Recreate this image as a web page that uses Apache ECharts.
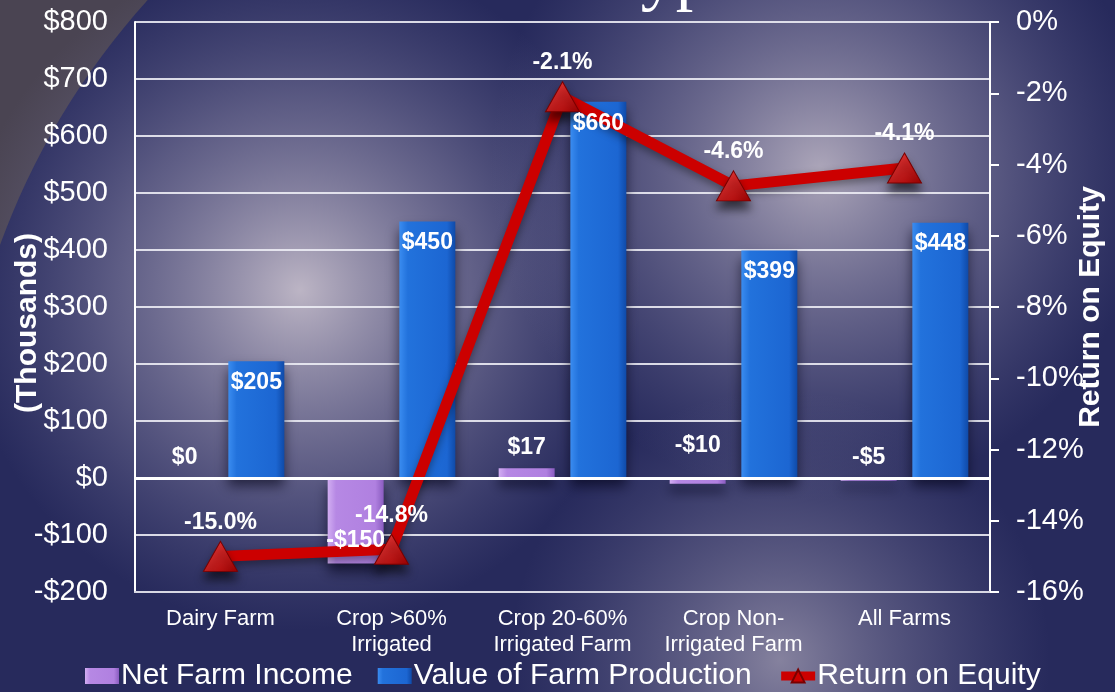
<!DOCTYPE html>
<html lang="en">
<head>
    <meta charset="UTF-8">
    <title>Farm Type</title>
    <script src="https://cdn.jsdelivr.net/npm/echarts@6/dist/echarts.min.js"></script>
    <style>
        html, body { margin: 0; padding: 0; background: #272a5c; }
        #chart { width: 1115px; height: 692px; }
    </style>
</head>
<body>
    <div id="chart"></div>
    <script>
        // data
        const categories = ['Dairy Farm', 'Crop >60%\nIrrigated', 'Crop 20-60%\nIrrigated Farm', 'Crop Non-\nIrrigated Farm', 'All Farms'];
        const netIncome = [0, -150, 17, -10, -5];          // $ thousands
        const farmValue = [205, 450, 660, 399, 448];       // $ thousands
        const roe = [-15.0, -14.8, -2.1, -4.6, -4.1];      // percent

        const font = '"Liberation Sans", Arial, sans-serif';
        const money = v => (v < 0 ? '-$' + (-v) : '$' + v);

        let chart = echarts.init(document.getElementById('chart'));

        // background shapes (slide template look)
        const glow = (a) => ({
            type: 'radial', x: 0.5, y: 0.5, r: 0.5,
            colorStops: [
                { offset: 0, color: 'rgba(196,188,202,' + a + ')' },
                { offset: 0.55, color: 'rgba(150,145,175,' + (a * 0.5) + ')' },
                { offset: 1, color: 'rgba(120,118,160,0)' }
            ]
        });
        const bg = [
            { type: 'rect', z: -10, silent: true, shape: { x: 0, y: 0, width: 1115, height: 692 }, style: { fill: '#4a4452' } },
            { type: 'circle', z: -10, silent: true, shape: { cx: 700, cy: 500, r: 745 }, style: { fill: '#272a5c' } },
            { type: 'circle', z: -9, silent: true, shape: { cx: 300, cy: 290, r: 340 }, style: { fill: glow(0.95) } },
            { type: 'circle', z: -9, silent: true, shape: { cx: 820, cy: 170, r: 330 }, style: { fill: glow(0.85) } },
            { type: 'circle', z: -9, silent: true, shape: { cx: 780, cy: 660, r: 270 }, style: { fill: glow(0.6) } },
            // cropped slide title, only the descenders show
            { type: 'text', z: -8, silent: true, style: { text: 'Type', x: 603, y: -21, fill: '#ffffff', font: '70px "Liberation Serif", serif', verticalAlign: 'middle' } }
        ];

        const blueFill = new echarts.graphic.LinearGradient(0, 0, 1, 0, [
            { offset: 0, color: '#3a8cf0' }, { offset: 0.15, color: '#2272dc' },
            { offset: 0.85, color: '#1c66d2' }, { offset: 1, color: '#0f4aa8' }
        ]);
        const purpleFill = new echarts.graphic.LinearGradient(0, 0, 1, 0, [
            { offset: 0, color: '#d2aef2' }, { offset: 0.15, color: '#b688e4' },
            { offset: 0.85, color: '#b080e0' }, { offset: 1, color: '#8a5cc0' }
        ]);
        const redFill = new echarts.graphic.LinearGradient(0, 0, 1, 1, [
            { offset: 0, color: '#f04040' }, { offset: 1, color: '#a00000' }
        ]);

        const valueLabel = {
            show: true, color: '#ffffff', fontFamily: font, fontWeight: 'bold', fontSize: 23
        };
        const barShadow = { shadowBlur: 12, shadowOffsetY: 8, shadowColor: 'rgba(0,0,20,0.6)' };
        const clear = { color: 'rgba(0,0,0,0)' };

        const incomeItems = netIncome.map(v => ({
            value: v,
            label: v < -50 ? { position: 'insideBottom', distance: 11 } : { position: 'top', distance: v < -7 ? 21 : 9 }
        }));

        let option = {
            backgroundColor: '#272a5c',
            animation: false,
            graphic: bg,
            grid: { left: 135, right: 125, top: 22, bottom: 100, containLabel: false, outerBoundsMode: 'none' },
            legend: {
                left: 80, top: 656,
                itemWidth: 34, itemHeight: 16, itemGap: 25,
                textStyle: { color: '#ffffff', fontFamily: font, fontSize: 30, padding: [0, 0, 0, -3] },
                data: [
                    { name: 'Net Farm Income', icon: 'rect' },
                    { name: 'Value of Farm Production', icon: 'rect' },
                    { name: 'Return on Equity', itemStyle: { color: '#cc0000' } }
                ],
                lineStyle: { width: 9 }
            },
            xAxis: [
                {
                    type: 'category',
                    data: categories,
                    axisLine: { onZero: false, lineStyle: { color: '#d8d8e4', width: 2 } },
                    axisTick: { show: false },
                    axisLabel: { color: '#ffffff', fontFamily: font, fontSize: 22, lineHeight: 26, margin: 14, interval: 0 }
                },
                // twin axis for the label overlay, so bar labels sit above the line
                { type: 'category', data: categories, show: false }
            ],
            yAxis: [
                {
                    type: 'value', min: -200, max: 800, interval: 100,
                    name: '(Thousands)', nameLocation: 'middle', nameGap: 92, nameMoveOverlap: false,
                    nameTextStyle: { color: '#ffffff', fontFamily: font, fontWeight: 'bold', fontSize: 30, padding: [0, 32, 0, 0] },
                    axisLine: { show: true, lineStyle: { color: '#ffffff', width: 2 } },
                    axisTick: { show: false },
                    axisLabel: { color: '#ffffff', fontFamily: font, fontSize: 29, margin: 27, formatter: money },
                    splitLine: { show: true, lineStyle: { color: 'rgba(236,236,244,0.9)', width: 2 } }
                },
                {
                    type: 'value', min: -16, max: 0, interval: 2, position: 'right',
                    name: 'Return on Equity', nameLocation: 'middle', nameGap: 86, nameMoveOverlap: false,
                    nameTextStyle: { color: '#ffffff', fontFamily: font, fontWeight: 'bold', fontSize: 30 },
                    axisLine: { show: true, lineStyle: { color: '#ffffff', width: 2 } },
                    axisTick: { show: true, length: 9, lineStyle: { color: '#ffffff', width: 2 } },
                    axisLabel: { color: '#ffffff', fontFamily: font, fontSize: 29, margin: 26, formatter: v => v + '%' },
                    splitLine: { show: false }
                }
            ],
            series: [
                {
                    name: 'Net Farm Income',
                    type: 'bar',
                    barWidth: 56,
                    barGap: '28%',
                    data: netIncome,
                    itemStyle: Object.assign({ color: purpleFill }, barShadow),
                    markLine: {
                        silent: true, symbol: 'none', label: { show: false },
                        lineStyle: { color: '#ffffff', width: 3, type: 'solid' },
                        data: [{ yAxis: 0 }]
                    }
                },
                {
                    name: 'Value of Farm Production',
                    type: 'bar',
                    barWidth: 56,
                    data: farmValue,
                    itemStyle: Object.assign({ color: blueFill }, barShadow)
                },
                {
                    name: 'Return on Equity',
                    type: 'line',
                    yAxisIndex: 1,
                    data: roe,
                    color: '#cc0000',
                    lineStyle: { color: '#cc0000', width: 11, shadowBlur: 8, shadowOffsetY: 4, shadowColor: 'rgba(0,0,0,0.4)' },
                    symbol: 'triangle',
                    symbolSize: [34, 30],
                    itemStyle: { color: redFill, borderColor: '#7a0000', borderWidth: 1, shadowBlur: 10, shadowOffsetY: 8, shadowColor: 'rgba(0,0,0,0.6)' },
                    label: Object.assign({}, valueLabel, { position: 'top', distance: 7, formatter: p => p.value.toFixed(1) + '%' })
                },
                {
                    name: 'income labels',
                    type: 'bar', xAxisIndex: 1, silent: true, z: 10,
                    barWidth: 56, barGap: '28%',
                    data: incomeItems,
                    itemStyle: clear,
                    label: Object.assign({}, valueLabel, { formatter: p => money(p.value) })
                },
                {
                    name: 'value labels',
                    type: 'bar', xAxisIndex: 1, silent: true, z: 10,
                    barWidth: 56,
                    data: farmValue,
                    itemStyle: clear,
                    label: Object.assign({}, valueLabel, { position: 'insideTop', distance: 10, formatter: p => money(p.value) })
                }
            ]
        };
        chart.setOption(option);
    </script>
</body>
</html>
